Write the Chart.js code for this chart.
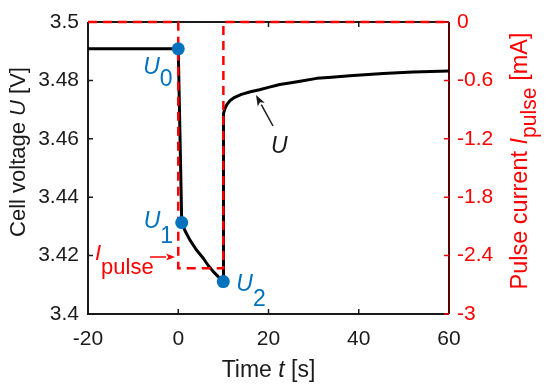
<!DOCTYPE html>
<html><head><meta charset="utf-8">
<script src="https://cdn.jsdelivr.net/npm/chart.js@4.4.1/dist/chart.umd.min.js"></script>
<style>html,body{margin:0;padding:0;background:#fff}#wrap{width:550px;height:389px}</style>
</head><body><div id="wrap"><canvas id="c" width="550" height="389"></canvas></div>
<script>
// ---- data ----
const timeU   = [-20, 0, 0.77, 1.5, 2.6, 4.0, 5.55, 6.6, 7.77, 8.9, 9.98,
                 10.0, 10.05, 10.3, 10.8, 11.5, 12.5, 14.0, 16.0, 18.0, 20.0, 22.5, 25.0, 27.0, 30.7, 34.0, 38.0, 45.4, 52.0, 60.0];
const voltage = [3.4908, 3.4908, 3.4313, 3.4285, 3.4253, 3.4220, 3.4191, 3.4167, 3.4145, 3.4127, 3.4111,
                 3.4678, 3.4686, 3.4702, 3.4718, 3.4731, 3.4742, 3.4752, 3.4761, 3.4768, 3.4776, 3.4786, 3.4792, 3.4797, 3.4807, 3.4811, 3.4816, 3.4824, 3.4829, 3.4832];
const timeI    = [-20, 0, 0, 10, 10, 60];
const currentI = [0, 0, -2.53, -2.53, 0, 0];
const markerTime    = [0, 0.77, 9.98];
const markerVoltage = [3.4908, 3.4313, 3.4111];
const markerSubs    = ['0', '1', '2'];
const xTicks       = [-20, 0, 20, 40, 60];
const xTickLabels  = ['-20', '0', '20', '40', '60'];
const yLeftTicks   = [3.4, 3.42, 3.44, 3.46, 3.48, 3.5];
const yLeftLabels  = ['3.4', '3.42', '3.44', '3.46', '3.48', '3.5'];
const yRightTicks  = [-3, -2.4, -1.8, -1.2, -0.6, 0];
const yRightLabels = ['-3', '-2.4', '-1.8', '-1.2', '-0.6', '0'];

const FONT = '"Liberation Sans", Arial, Helvetica, sans-serif';
const BLUE = '#0072BD', RED = '#FF0000', INK = '#1a1a1a';

function pts(xs, ys){ return xs.map((x,i)=>({x:x, y:ys[i]})); }
function setTicks(vals){ return function(scale){ scale.ticks = vals.map(v=>({value:v})); }; }
function labelFrom(vals, labels){ return function(v){ const i = vals.findIndex(t=>Math.abs(t-v)<1e-9); return i>=0 ? labels[i] : ''; }; }

function richWidth(ctx, parts, size){
  let w = 0;
  parts.forEach(p=>{ const s = p.sub ? size*p.sub : size; ctx.font = (p.it?'italic ':'') + s + 'px ' + FONT; w += ctx.measureText(p.t).width; });
  return w;
}
function drawRich(ctx, parts, x, y, size, color, align){
  const w = richWidth(ctx, parts, size);
  let cx = align==='center' ? x - w/2 : (align==='right' ? x - w : x);
  ctx.fillStyle = color; ctx.textBaseline = 'alphabetic'; ctx.textAlign = 'left';
  parts.forEach(p=>{
    const s = p.sub ? size*p.sub : size;
    ctx.font = (p.it?'italic ':'') + s + 'px ' + FONT;
    ctx.fillText(p.t, cx, y + (p.dy||0));
    cx += ctx.measureText(p.t).width;
  });
}
function arrow(ctx, x1, y1, x2, y2, color, lw, hl, hw){
  ctx.save(); ctx.strokeStyle = color; ctx.fillStyle = color; ctx.lineWidth = lw;
  const a = Math.atan2(y2-y1, x2-x1);
  const bx = x2 - hl*Math.cos(a), by = y2 - hl*Math.sin(a);
  ctx.beginPath(); ctx.moveTo(x1,y1); ctx.lineTo(bx,by); ctx.stroke();
  ctx.beginPath(); ctx.moveTo(x2,y2);
  ctx.lineTo(bx + hw*Math.sin(a), by - hw*Math.cos(a));
  ctx.lineTo(bx + hl*0.25*Math.cos(a), by + hl*0.25*Math.sin(a));
  ctx.lineTo(bx - hw*Math.sin(a), by + hw*Math.cos(a));
  ctx.closePath(); ctx.fill(); ctx.restore();
}

const framePlugin = {
  id: 'frame',
  beforeDatasetsDraw(chart){
    const ctx = chart.ctx, a = chart.chartArea;
    const sx = chart.scales.x, sl = chart.scales.y, sr = chart.scales.y1;
    ctx.save();
    ctx.lineWidth = 2; ctx.strokeStyle = INK;
    ctx.beginPath();
    ctx.moveTo(a.left, a.top); ctx.lineTo(a.left, a.bottom); ctx.lineTo(a.right, a.bottom);
    ctx.moveTo(a.left, a.top); ctx.lineTo(a.right, a.top);
    ctx.stroke();
    ctx.lineWidth = 1.5;
    ctx.beginPath();
    xTicks.forEach(v=>{ const px = sx.getPixelForValue(v); ctx.moveTo(px, a.bottom); ctx.lineTo(px, a.bottom-5); ctx.moveTo(px, a.top); ctx.lineTo(px, a.top+5); });
    yLeftTicks.forEach(v=>{ const py = sl.getPixelForValue(v); ctx.moveTo(a.left, py); ctx.lineTo(a.left+5, py); });
    ctx.stroke();
    ctx.lineWidth = 2; ctx.strokeStyle = '#5a0000';
    ctx.beginPath(); ctx.moveTo(a.right, a.top); ctx.lineTo(a.right, a.bottom); ctx.stroke();
    ctx.lineWidth = 1.5; ctx.strokeStyle = RED;
    ctx.beginPath();
    yRightTicks.forEach(v=>{ const py = sr.getPixelForValue(v); ctx.moveTo(a.right, py); ctx.lineTo(a.right-5, py); });
    ctx.stroke();
    ctx.restore();
  },
  afterDraw(chart){
    const ctx = chart.ctx, a = chart.chartArea;
    const sx = chart.scales.x, sl = chart.scales.y;
    ctx.save();
    drawRich(ctx, [{t:'Time '},{t:'t',it:true},{t:' [s]'}], (a.left+a.right)/2, 377, 23, INK, 'center');
    ctx.save(); ctx.translate(25, 152); ctx.rotate(-Math.PI/2);
    drawRich(ctx, [{t:'Cell voltage '},{t:'U',it:true},{t:' [V]'}], 0, 0, 22, INK, 'center');
    ctx.restore();
    ctx.save(); ctx.translate(527, 161); ctx.rotate(-Math.PI/2);
    drawRich(ctx, [{t:'Pulse current '},{t:'I',it:true},{t:'pulse',sub:0.9,dy:9},{t:' [mA]'}], 0, 0, 23.5, RED, 'center');
    ctx.restore();
    const off = [[-35, 25], [-38, 5], [13, 9]];
    const subDy = [12, 15, 15];
    markerTime.forEach((t,i)=>{
      const px = sx.getPixelForValue(t), py = sl.getPixelForValue(markerVoltage[i]);
      drawRich(ctx, [{t:'U',it:true},{t:markerSubs[i],dy:subDy[i]}], px+off[i][0], py+off[i][1], 23, BLUE, 'left');
    });
    drawRich(ctx, [{t:'I',it:true},{t:'pulse',dy:14}], 95, 260, 22, RED, 'left');
    arrow(ctx, 150, 257, 175, 257, RED, 1.5, 9, 3.5);
    drawRich(ctx, [{t:'U',it:true}], 271, 153, 23, INK, 'left');
    arrow(ctx, 273, 126, 256, 95, INK, 1.5, 11, 4);
    ctx.restore();
  }
};

new Chart(document.getElementById('c'), {
  type: 'scatter',
  data: {
    datasets: [
      { label: 'markers', data: pts(markerTime, markerVoltage), yAxisID: 'y', showLine: false,
        pointRadius: 6.5, pointBackgroundColor: BLUE, pointBorderWidth: 0, order: 0 },
      { label: 'I', data: pts(timeI, currentI), yAxisID: 'y1', showLine: true, pointRadius: 0,
        borderColor: RED, borderWidth: 2.5, borderDash: [9, 6], tension: 0, clip: false, order: 1 },
      { label: 'U', data: pts(timeU, voltage), yAxisID: 'y', showLine: true, pointRadius: 0,
        borderColor: '#000', borderWidth: 3, tension: 0, borderJoinStyle: 'round', order: 2 }
    ]
  },
  options: {
    responsive: false, animation: false, devicePixelRatio: 1,
    layout: { padding: { top: 22, left: 0, right: 0, bottom: 0 } },
    plugins: { legend: { display: false }, tooltip: { enabled: false } },
    scales: {
      x: { type: 'linear', position: 'bottom', min: -20, max: 60,
        afterBuildTicks: setTicks(xTicks), afterFit(s){ s.height = 75; },
        grid: { display: false, drawTicks: false }, border: { display: false },
        ticks: { callback: labelFrom(xTicks, xTickLabels), color: INK, padding: 13, maxRotation: 0,
          font: { family: FONT, size: 21 } } },
      y: { type: 'linear', position: 'left', min: 3.4, max: 3.5,
        afterBuildTicks: setTicks(yLeftTicks), afterFit(s){ s.width = 88; },
        grid: { display: false, drawTicks: false }, border: { display: false },
        ticks: { callback: labelFrom(yLeftTicks, yLeftLabels), color: INK, padding: 9,
          font: { family: FONT, size: 21 } } },
      y1: { type: 'linear', position: 'right', min: -3, max: 0,
        afterBuildTicks: setTicks(yRightTicks), afterFit(s){ s.width = 101; },
        grid: { display: false, drawTicks: false }, border: { display: false },
        ticks: { callback: labelFrom(yRightTicks, yRightLabels), color: RED, padding: 8,
          font: { family: FONT, size: 21 } } }
    }
  },
  plugins: [framePlugin]
});
</script></body></html>
